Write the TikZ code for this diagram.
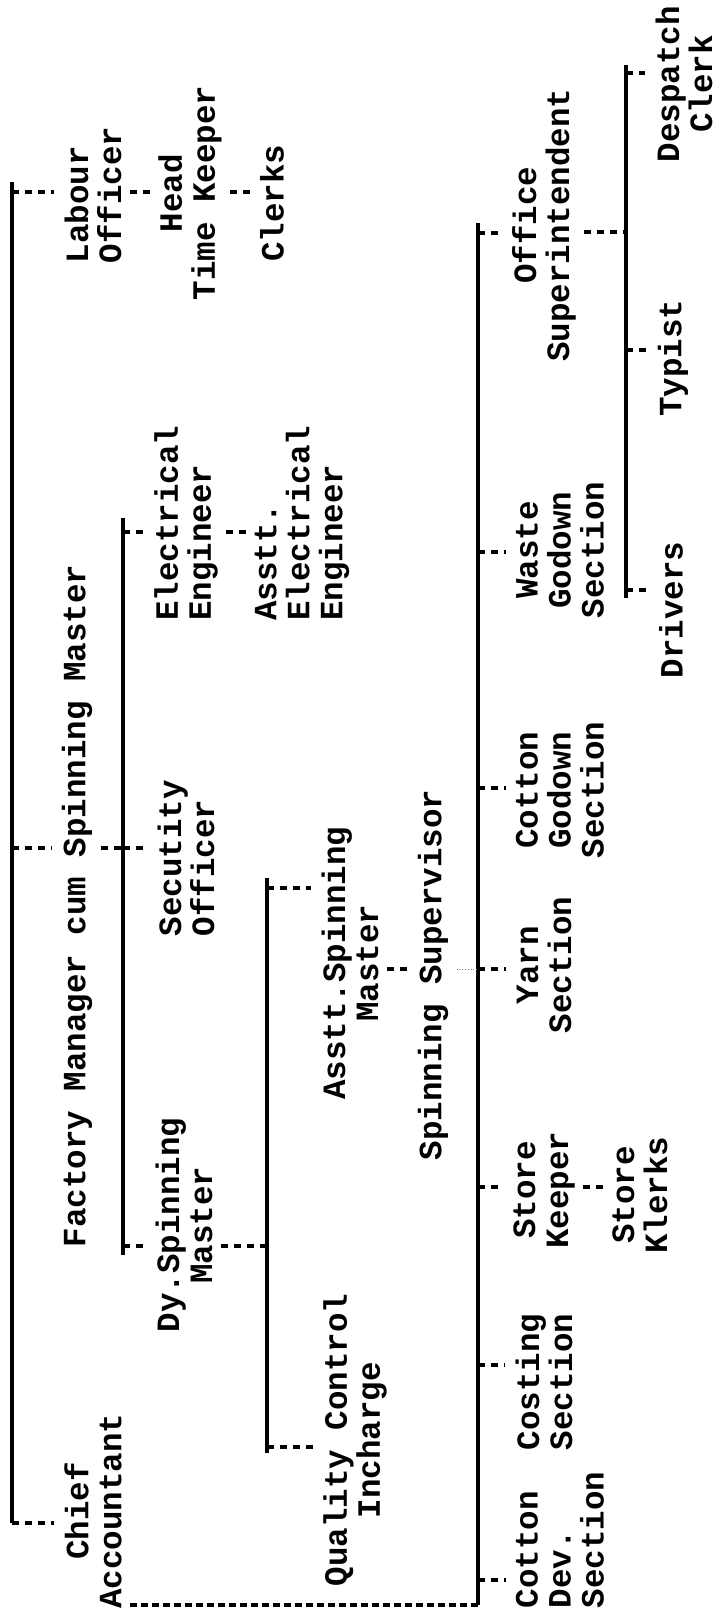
\documentclass[tikz,border=0pt]{standalone}
\usepackage{fontspec}
\setmonofont{Liberation Mono}
\usetikzlibrary{calc}

\begin{document}
\begin{tikzpicture}[x=0.5pt,y=0.5pt,
  lbl/.style={rotate=90,align=center,inner sep=4pt,font=\ttfamily\bfseries\fontsize{16.25}{16.5}\selectfont},
  lbll/.style={lbl,align=left},
  bus/.style={line width=1.8pt},
  stub/.style={line width=2.1pt,dash pattern=on 3.5pt off 3pt},
  tick/.style={stub,shorten >=1pt},
  funcline/.style={line width=1.6pt,dash pattern=on 3.5pt off 2pt},
  faint/.style={line width=0.4pt,densely dotted,black!50}]
\useasboundingbox (0,0) rectangle (720,-1616);

\node[lbl] (chief) at (93,-1511) {Chief\\Accountant};
\node[lbl] (fm) at (77,-906) {Factory Manager cum Spinning Master};
\node[lbll] (lab) at (93,-195) {Labour\\Officer};
\node[lbl] (htk) at (190,-193) {Head\\Time Keeper};
\node[lbl] (clk) at (272,-203) {Clerks};
\node[lbl] (dsm) at (184,-1225) {Dy.Spinning\\Master};
\node[lbll] (sec) at (186,-858) {Secutity\\Officer};
\node[lbll] (ee) at (186,-523) {Electrical\\Engineer};
\node[lbll] (aee) at (302,-523) {Asstt.\\Electrical\\Engineer};
\node[lbl] (qc) at (355,-1440) {Quality Control\\Incharge};
\node[lbl] (asm) at (350,-963) {Asstt.Spinning\\Master};
\node[lbl] (ss) at (433,-975) {Spinning Supervisor};
\node[lbll] (cds) at (560,-1540) {Cotton\\Dev.\\Section};
\node[lbll] (cos) at (544,-1382) {Costing\\Section};
\node[lbl] (sk) at (544,-1190) {Store\\Keeper};
\node[lbl] (scl) at (640,-1195) {Store\\Klerks};
\node[lbl] (yarn) at (544,-965) {Yarn\\Section};
\node[lbl] (cgs) at (560,-790) {Cotton\\Godown\\Section};
\node[lbl] (wgs) at (560,-550) {Waste\\Godown\\Section};
\node[lbl] (osup) at (544,-225) {Office\\Superintendent};
\node[lbl] (drv) at (671,-610) {Drivers};
\node[lbl] (typ) at (673,-358) {Typist};
\node[lbl] (dcl) at (684,-84) {Despatch\\Clerk};

\coordinate (tlab) at (12,-192); \coordinate (tfm) at (12,-848); \coordinate (tchief) at (12,-1523);
\draw[bus] (12,-182) -- (tchief);
\draw[tick] (tlab) -- (tlab -| lab.north);
\draw[tick] (tfm) -- (tfm -| fm.north);
\draw[tick] (tchief) -- (tchief -| chief.north);
\draw[stub] (lab.south |- tlab) -- (htk.north |- tlab);
\draw[stub] (htk.south |- tlab) -- (clk.north |- tlab);

\coordinate (tee) at (123,-532); \coordinate (tsec) at (123,-848); \coordinate (tdsm) at (123,-1246);
\draw[bus] (123,-518) -- (123,-1255);
\draw[stub] (fm.south |- tsec) -- (tsec);
\draw[tick] (tsec) -- (tsec -| sec.north);
\draw[tick] (tee) -- (tee -| ee.north);
\draw[stub] (ee.south |- tee) -- (aee.north |- tee);
\draw[tick] (tdsm) -- (tdsm -| dsm.north);

\coordinate (tasm) at (267,-888); \coordinate (tdc) at (267,-1246); \coordinate (tqc) at (267,-1447);
\draw[bus] (267,-878) -- (267,-1453);
\draw[stub] (dsm.south |- tdc) -- (tdc);
\draw[tick] (tasm) -- (tasm -| asm.north);
\draw[tick] (tqc) -- (tqc -| qc.north);

\coordinate (tos) at (478,-233); \coordinate (twg) at (478,-552); \coordinate (tcg) at (478,-788);
\coordinate (tss) at (478,-969); \coordinate (tsk) at (478,-1187); \coordinate (tco) at (478,-1365);
\coordinate (tcd) at (478,-1580); \coordinate (dend) at (478,-1605);
\draw[bus] (478,-223) -- (dend);
\draw[stub] (asm.south |- tss) -- (ss.north |- tss);
\draw[faint] (ss.south |- tss) -- (tss);
\draw[tick] (tos) -- (tos -| osup.north);
\draw[tick] (twg) -- (twg -| wgs.north);
\draw[tick] (tcg) -- (tcg -| cgs.north);
\draw[tick] (tss) -- (tss -| yarn.north);
\draw[tick] (tsk) -- (tsk -| sk.north);
\draw[tick] (tco) -- (tco -| cos.north);
\draw[tick] (tcd) -- (tcd -| cds.north);
\draw[stub] (sk.south |- tsk) -- (scl.north |- tsk);
\draw[funcline] (dend) -- (dend -| chief.south);

\coordinate (tdcl) at (626,-73); \coordinate (tose) at (626,-232); \coordinate (ttyp) at (626,-350); \coordinate (tdrv) at (626,-590);
\draw[bus] (626,-65) -- (626,-598);
\draw[stub] (osup.south |- tose) -- (tose);
\draw[tick] (tdcl) -- (tdcl -| dcl.north);
\draw[tick] (ttyp) -- (ttyp -| typ.north);
\draw[tick] (tdrv) -- (tdrv -| drv.north);
\end{tikzpicture}
\end{document}
